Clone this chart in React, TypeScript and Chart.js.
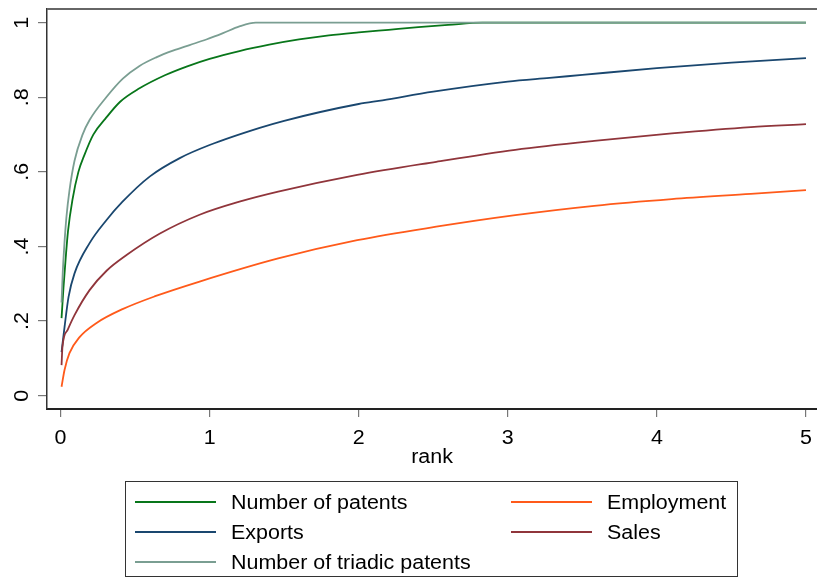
import React, { useEffect, useRef } from "react";
import { Chart, registerables } from "chart.js";

Chart.register(...registerables);

// ---- data ----
const patentsRank = [0.007, 0.02, 0.035, 0.05, 0.08, 0.12, 0.16, 0.22, 0.3, 0.4, 0.53, 0.7, 0.85, 1.0, 1.2, 1.4, 1.6, 1.8, 2.0, 2.2, 2.4, 2.6, 2.83, 5.0];
const patentsShare = [0.208, 0.29, 0.37, 0.44, 0.525, 0.6, 0.645, 0.7, 0.742, 0.788, 0.824, 0.859, 0.883, 0.903, 0.924, 0.941, 0.955, 0.966, 0.974, 0.981, 0.988, 0.994, 1.0, 1.0];

const exportsRank = [0.007, 0.027, 0.054, 0.094, 0.195, 0.309, 0.416, 0.6, 0.8, 1.0, 1.336, 1.5, 2.0, 2.16, 2.5, 3.0, 3.28, 3.5, 4.0, 4.5, 5.0];
const exportsShare = [0.117, 0.184, 0.265, 0.328, 0.409, 0.471, 0.52, 0.588, 0.637, 0.672, 0.718, 0.737, 0.782, 0.792, 0.815, 0.842, 0.852, 0.86, 0.878, 0.893, 0.905];

const triadicRank = [0.007, 0.015, 0.025, 0.04, 0.06, 0.094, 0.148, 0.195, 0.307, 0.418, 0.53, 0.642, 0.754, 0.866, 0.978, 1.09, 1.2, 1.31, 5.0];
const triadicShare = [0.25, 0.33, 0.4, 0.48, 0.55, 0.63, 0.7, 0.739, 0.8, 0.85, 0.884, 0.907, 0.925, 0.94, 0.955, 0.972, 0.99, 1.0, 1.0];

const employmentRank = [0.007, 0.027, 0.06, 0.128, 0.242, 0.416, 0.63, 0.933, 1.46, 1.99, 2.52, 3.05, 3.58, 4.1, 4.63, 5.0];
const employmentShare = [0.024, 0.069, 0.114, 0.157, 0.195, 0.232, 0.266, 0.306, 0.368, 0.417, 0.453, 0.484, 0.509, 0.527, 0.541, 0.551];

const salesRank = [0.007, 0.013, 0.047, 0.094, 0.195, 0.309, 0.443, 0.664, 0.933, 1.2, 1.46, 1.99, 2.52, 3.05, 3.58, 4.1, 4.63, 5.0];
const salesShare = [0.082, 0.131, 0.176, 0.216, 0.283, 0.335, 0.377, 0.434, 0.485, 0.52, 0.547, 0.592, 0.627, 0.659, 0.683, 0.703, 0.72, 0.728];

const xTicks = [0, 1, 2, 3, 4, 5];
const yTicks = [0, 0.2, 0.4, 0.6, 0.8, 1];
const yTickLabels = ["0", ".2", ".4", ".6", ".8", "1"];
const xTitle = "rank";

const seriesLabels = ["Number of patents", "Exports", "Number of triadic patents", "Employment", "Sales"];
const seriesColors = ["#08761a", "#1a476f", "#7a9e92", "#ff5a1a", "#90353b"];

const FONT = "'Liberation Sans', Arial, Helvetica, sans-serif";
const FONT_SIZE = 19.5;
const STRETCH = 1.1;

function toPoints(xs: number[], ys: number[]) {
  return xs.map((x, i) => ({ x, y: ys[i] }));
}

function drawText(
  ctx: CanvasRenderingContext2D,
  text: string,
  x: number,
  y: number,
  align: CanvasTextAlign,
  baseline: CanvasTextBaseline,
  rotate = 0
) {
  ctx.save();
  ctx.translate(x, y);
  if (rotate) ctx.rotate(rotate);
  ctx.scale(STRETCH, 1);
  ctx.font = `${FONT_SIZE}px ${FONT}`;
  ctx.fillStyle = "#000";
  ctx.textAlign = align;
  ctx.textBaseline = baseline;
  ctx.fillText(text, 0, 0);
  ctx.restore();
}

const decorPlugin = {
  id: "decor",
  afterDraw(chart: any) {
    const ctx: CanvasRenderingContext2D = chart.ctx;
    const area = chart.chartArea;
    const xs = chart.scales.x;
    const ys = chart.scales.y;

    // top frame line
    ctx.save();
    ctx.strokeStyle = "#666";
    ctx.lineWidth = 2;
    ctx.beginPath();
    ctx.moveTo(area.left, area.top);
    ctx.lineTo(area.right, area.top);
    ctx.stroke();
    ctx.restore();

    // y tick labels (rotated, reading bottom to top)
    yTicks.forEach((v, i) => {
      const py = ys.getPixelForValue(v);
      drawText(ctx, yTickLabels[i], 28, py, "center", "alphabetic", -Math.PI / 2);
    });

    // x tick labels
    xTicks.forEach((v) => {
      const px = xs.getPixelForValue(v);
      drawText(ctx, String(v), px, 444, "center", "alphabetic");
    });

    // x title
    drawText(ctx, xTitle, (area.left + area.right) / 2, 463, "center", "alphabetic");

    // legend
    ctx.save();
    ctx.strokeStyle = "#333";
    ctx.lineWidth = 1;
    ctx.strokeRect(125.5, 481.5, 612, 95);
    ctx.restore();

    const ds = chart.data.datasets;
    [0, 1, 2, 3, 4].forEach((di) => {
      const col = di < 3 ? 0 : 1;
      const row = di < 3 ? di : di - 3;
      const lx = col === 0 ? 135 : 511;
      const tx = col === 0 ? 231 : 607;
      const ly = 502 + row * 30;
      ctx.save();
      ctx.strokeStyle = ds[di].borderColor;
      ctx.lineWidth = 2;
      ctx.beginPath();
      ctx.moveTo(lx, ly);
      ctx.lineTo(lx + 81, ly);
      ctx.stroke();
      ctx.restore();
      drawText(ctx, ds[di].label, tx, ly + 7, "left", "alphabetic");
    });
  },
};

export default function App() {
  const ref = useRef<HTMLCanvasElement | null>(null);

  useEffect(() => {
    if (!ref.current) return;
    const series = [
      toPoints(patentsRank, patentsShare),
      toPoints(exportsRank, exportsShare),
      toPoints(triadicRank, triadicShare),
      toPoints(employmentRank, employmentShare),
      toPoints(salesRank, salesShare),
    ];
    const drawOrder = [4, 3, 1, 0, 2];
    const chart = new Chart(ref.current, {
      type: "line",
      data: {
        datasets: series.map((pts, i) => ({
          label: seriesLabels[i],
          data: pts,
          borderColor: seriesColors[i],
          backgroundColor: seriesColors[i],
          borderWidth: 1.8,
          pointRadius: 0,
          fill: false,
          cubicInterpolationMode: "monotone" as const,
          order: drawOrder[i],
        })),
      },
      plugins: [decorPlugin],
      options: {
        responsive: false,
        animation: false,
        layout: { padding: { top: 9, left: 0, right: 0, bottom: 0 } },
        plugins: {
          legend: { display: false },
          tooltip: { enabled: false },
        },
        scales: {
          x: {
            type: "linear",
            min: -0.0906,
            max: 5.074,
            afterBuildTicks: (s: any) => {
              s.ticks = xTicks.map((v) => ({ value: v }));
            },
            afterFit: (s: any) => {
              s.height = 169;
            },
            ticks: { display: false },
            grid: {
              drawOnChartArea: false,
              drawTicks: true,
              tickLength: 8,
              color: "#777",
              lineWidth: 1.2,
            },
            border: { display: true, color: "#222", width: 2 },
          },
          y: {
            type: "linear",
            min: -0.0357,
            max: 1.0367,
            afterBuildTicks: (s: any) => {
              s.ticks = yTicks.map((v) => ({ value: v }));
            },
            afterFit: (s: any) => {
              s.width = 47;
            },
            ticks: { display: false },
            grid: {
              drawOnChartArea: false,
              drawTicks: true,
              tickLength: 9,
              color: "#777",
              lineWidth: 1.2,
            },
            border: { display: true, color: "#333", width: 1.5 },
          },
        },
      },
    });
    return () => chart.destroy();
  }, []);

  return (
    <div style={{ position: "fixed", left: 0, top: 0, width: 817, height: 578, background: "#fff" }}>
      <canvas ref={ref} width={817} height={578} />
    </div>
  );
}
